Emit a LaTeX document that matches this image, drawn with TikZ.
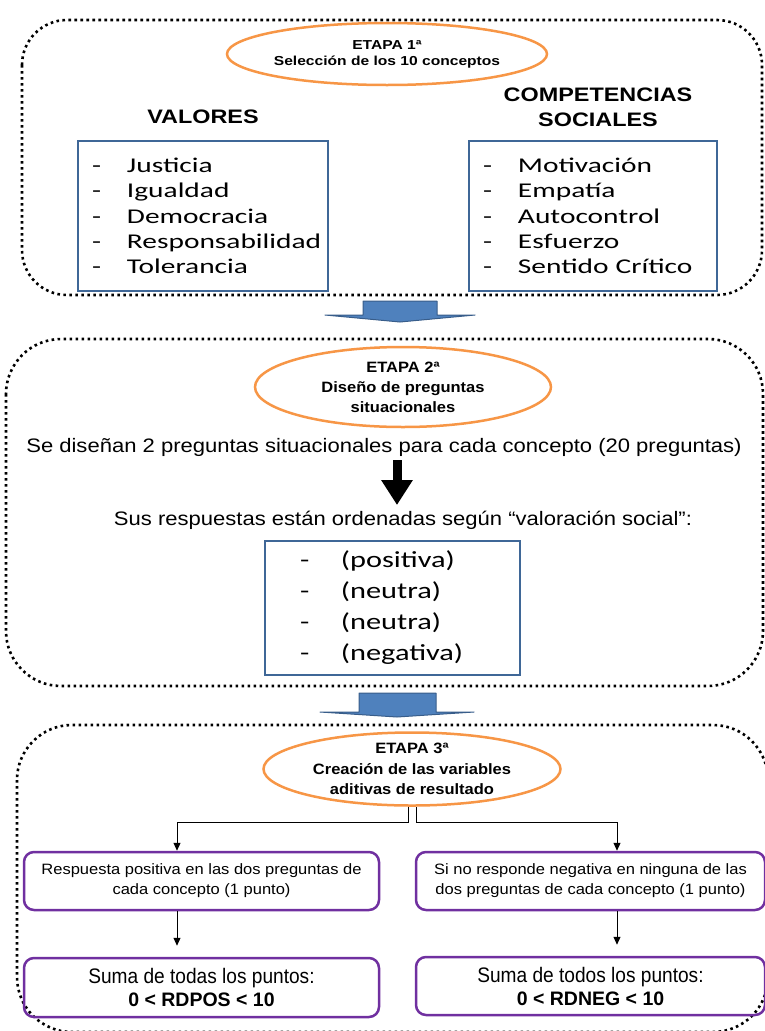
\documentclass[tikz,border=0pt]{standalone}
\usepackage{fontspec}
\setmainfont{Liberation Sans}
\newfontfamily\sansA[FakeStretch=1.2]{Liberation Sans}
\newfontfamily\sansB[FakeStretch=1.1]{Liberation Sans}
\newfontfamily\sansC[FakeStretch=1.13]{Liberation Sans}
\newfontfamily\sansN[FakeStretch=0.91]{Liberation Sans}
\newfontfamily\calA[FakeStretch=1.4]{Carlito}
\newfontfamily\calB[FakeStretch=1.32]{Carlito}
\usetikzlibrary{shapes.geometric,arrows.meta}
\definecolor{orng}{HTML}{F79646}
\definecolor{bluebd}{HTML}{3F6797}
\definecolor{purp}{HTML}{7030A0}
\definecolor{arrfill}{HTML}{4F81BD}
\definecolor{arrbd}{HTML}{385D8A}
\tikzset{
  stage/.style={draw=black, line width=2.6pt, dash pattern=on 2.6pt off 3.4pt, inner sep=0pt},
  etapa/.style={ellipse, draw=orng, line width=2.5pt, fill=white, align=center, inner sep=0pt},
  listbox/.style={draw=bluebd, line width=2pt, align=left, inner ysep=0pt, anchor=north west},
  resbox/.style={draw=purp, line width=2.5pt, rounded corners=10pt, align=center, inner sep=0pt},
  conn/.style={line width=1pt, -{Triangle[width=7pt,length=8pt]}},
  bigarrow/.style={line width=9pt, -{Triangle[width=30pt,length=25pt]}},
  blockarrow/.style={fill=arrfill, draw=arrbd, line width=1pt, line join=round}
}
\begin{document}
\begin{tikzpicture}[x=1pt,y=-1pt]
\useasboundingbox (0,0) rectangle (765,1031);
% stage frames
\draw[stage, rounded corners=45pt] (22,20) rectangle (762,295);
\draw[stage, rounded corners=55pt] (6,339) rectangle (763,686);
\draw[stage, rounded corners=55pt] (17,725) rectangle (768,1032);
% block arrows
\draw[blockarrow] (363,301) -- (437,301) -- (437,315) -- (475,315) -- (400,322) -- (325,315) -- (363,315) -- cycle;
\draw[blockarrow] (359,693) -- (436,693) -- (436,712) -- (474,712) -- (397,717) -- (320,712) -- (359,712) -- cycle;
% stage 1
\node[etapa, minimum width=290pt, minimum height=62pt,
  font=\sansA\bfseries\fontsize{13}{16}\selectfont] (e1) at (387,54) {ETAPA 1ª\\Selección de los 10 conceptos};
\node[font=\sansA\bfseries\fontsize{19.5}{25}\selectfont] (val) at (203,117) {VALORES};
\node[font=\sansA\bfseries\fontsize{19.5}{25}\selectfont, align=center] (comp) at (598,107) {COMPETENCIAS\\SOCIALES};
\node[listbox, minimum width=250pt, minimum height=150pt, text width=222pt, inner xsep=14pt,
  font=\calA\fontsize{21}{25.3}\selectfont] (lv) at (77,140)
  {\makebox[35pt][l]{-}Justicia\\\makebox[35pt][l]{-}Igualdad\\\makebox[35pt][l]{-}Democracia\\\makebox[35pt][l]{-}Responsabilidad\\\makebox[35pt][l]{-}Tolerancia};
\node[listbox, minimum width=248pt, minimum height=150pt, text width=220pt, inner xsep=14pt,
  font=\calA\fontsize{21}{25.3}\selectfont] (lc) at (468,140)
  {\makebox[35pt][l]{-}Motivación\\\makebox[35pt][l]{-}Empatía\\\makebox[35pt][l]{-}Autocontrol\\\makebox[35pt][l]{-}Esfuerzo\\\makebox[35pt][l]{-}Sentido Crítico};
% stage 2
\node[etapa, minimum width=296pt, minimum height=80pt,
  font=\sansB\bfseries\fontsize{15}{20}\selectfont] (e2) at (403,387) {ETAPA 2ª\\Diseño de preguntas\\situacionales};
\node[font=\sansC\fontsize{19.5}{24}\selectfont] (se) at (384,447) {Se diseñan 2 preguntas situacionales para cada concepto (20 preguntas)};
\node[font=\sansC\fontsize{19.5}{24}\selectfont] (sus) at (403,520) {Sus respuestas están ordenadas según “valoración social”:};
\coordinate (ba1) at (397,460);
\coordinate (ba2) at (397,505);
\draw[bigarrow] (ba1) -- (ba2);
\node[listbox, minimum width=255pt, minimum height=134pt, text width=185pt, inner xsep=35pt,
  font=\calB\fontsize{23}{31}\selectfont] (lr) at (264,540)
  {\makebox[41pt][l]{-}(positiva)\\\makebox[41pt][l]{-}(neutra)\\\makebox[41pt][l]{-}(neutra)\\\makebox[41pt][l]{-}(negativa)};
% stage 3
\node[etapa, minimum width=297pt, minimum height=72pt,
  font=\sansB\bfseries\fontsize{15}{20.5}\selectfont] (e3) at (412,769) {ETAPA 3ª\\Creación de las variables\\aditivas de resultado};
\node[resbox, minimum width=355pt, minimum height=58pt, font=\sansB\fontsize{15}{20}\selectfont] (A) at (201.5,881)
  {Respuesta positiva en las dos preguntas de\\cada concepto (1 punto)};
\node[resbox, minimum width=349pt, minimum height=58pt, font=\sansB\fontsize{15}{20}\selectfont] (B) at (590.5,881)
  {Si no responde negativa en ninguna de las\\dos preguntas de cada concepto (1 punto)};
\node[resbox, minimum width=355pt, minimum height=59pt, font=\fontsize{19.5}{23}\selectfont] (C) at (201.5,987.5)
  {{\sansN\fontsize{21}{23}\selectfont Suma de todas los puntos:}\\\textbf{0 < RDPOS < 10}};
\node[resbox, minimum width=349pt, minimum height=58pt, font=\fontsize{19.5}{23}\selectfont] (D) at (590.5,986)
  {{\sansN\fontsize{21}{23}\selectfont Suma de todos los puntos:}\\\textbf{0 < RDNEG < 10}};
\coordinate (la) at (177,822);
\coordinate (ra) at (617,822);
\draw[conn] ([xshift=-4pt]e3.south) |- (la) -- (la |- A.north);
\draw[conn] ([xshift=4pt]e3.south) |- (ra) -- (ra |- B.north);
\draw[conn] (la |- A.south) -- ([yshift=11pt]la |- C.north);
\draw[conn] (ra |- B.south) -- ([yshift=11pt]ra |- D.north);
\end{tikzpicture}
\end{document}
